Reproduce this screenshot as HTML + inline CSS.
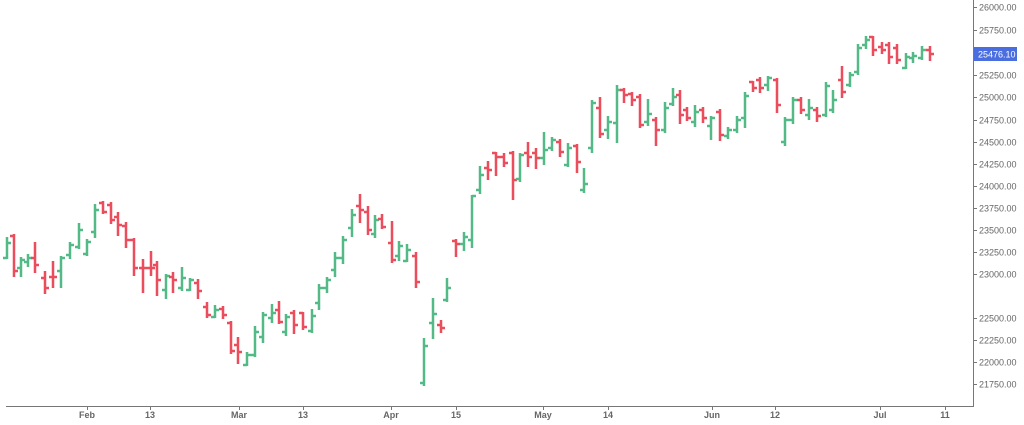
<!DOCTYPE html>
<html><head><meta charset="utf-8"><style>
html,body{margin:0;padding:0;background:#fff;width:1024px;height:425px;overflow:hidden}
svg text{font-family:"Liberation Sans",sans-serif;font-size:9px;fill:#666}
</style></head><body>
<svg id="s" width="1024" height="425" viewBox="0 0 1024 425" xmlns="http://www.w3.org/2000/svg">
<g stroke="#777" stroke-width="1" shape-rendering="crispEdges">
<line x1="973.5" y1="0" x2="973.5" y2="406"/>
<line x1="6" y1="406.5" x2="974" y2="406.5"/>
</g>
<g stroke="#777" shape-rendering="crispEdges">
<line x1="973" x2="977" y1="7.5" y2="7.5"/><line x1="973" x2="977" y1="30.5" y2="30.5"/>
<line x1="973" x2="977" y1="75.5" y2="75.5"/><line x1="973" x2="977" y1="97.5" y2="97.5"/>
<line x1="973" x2="977" y1="120.5" y2="120.5"/><line x1="973" x2="977" y1="142.5" y2="142.5"/>
<line x1="973" x2="977" y1="164.5" y2="164.5"/><line x1="973" x2="977" y1="186.5" y2="186.5"/>
<line x1="973" x2="977" y1="208.5" y2="208.5"/><line x1="973" x2="977" y1="230.5" y2="230.5"/>
<line x1="973" x2="977" y1="252.5" y2="252.5"/><line x1="973" x2="977" y1="274.5" y2="274.5"/>
<line x1="973" x2="977" y1="318.5" y2="318.5"/><line x1="973" x2="977" y1="340.5" y2="340.5"/>
<line x1="973" x2="977" y1="362.5" y2="362.5"/><line x1="973" x2="977" y1="384.5" y2="384.5"/>
<line y1="406" y2="410" x1="87.5" x2="87.5"/><line y1="406" y2="410" x1="150.5" x2="150.5"/>
<line y1="406" y2="410" x1="239.5" x2="239.5"/><line y1="406" y2="410" x1="303.5" x2="303.5"/>
<line y1="406" y2="410" x1="391.5" x2="391.5"/><line y1="406" y2="410" x1="456.5" x2="456.5"/>
<line y1="406" y2="410" x1="543.5" x2="543.5"/><line y1="406" y2="410" x1="608.5" x2="608.5"/>
<line y1="406" y2="410" x1="712.5" x2="712.5"/><line y1="406" y2="410" x1="775.5" x2="775.5"/>
<line y1="406" y2="410" x1="880.5" x2="880.5"/><line y1="406" y2="410" x1="945.5" x2="945.5"/>
</g>
<g text-anchor="start">
<text x="979" y="10.5">26000.00</text><text x="979" y="33.5">25750.00</text>
<text x="979" y="78.5">25250.00</text><text x="979" y="100.5">25000.00</text>
<text x="979" y="123.5">24750.00</text><text x="979" y="145.5">24500.00</text>
<text x="979" y="167.5">24250.00</text><text x="979" y="189.5">24000.00</text>
<text x="979" y="211.5">23750.00</text><text x="979" y="233.5">23500.00</text>
<text x="979" y="255.5">23250.00</text><text x="979" y="277.5">23000.00</text>
<text x="979" y="321.5">22500.00</text><text x="979" y="343.5">22250.00</text>
<text x="979" y="365.5">22000.00</text><text x="979" y="387.5">21750.00</text>
</g>
<rect x="974" y="47" width="43" height="14" fill="#4a6ee0"/>
<text x="978" y="57.5" style="fill:#fff">25476.10</text>
<g text-anchor="middle" style="font-weight:bold">
<text x="87" y="418">Feb</text><text x="150" y="418">13</text><text x="239" y="418">Mar</text>
<text x="303" y="418">13</text><text x="391" y="418">Apr</text><text x="456" y="418">15</text>
<text x="543" y="418">May</text><text x="608" y="418">14</text><text x="712" y="418">Jun</text>
<text x="775" y="418">12</text><text x="880" y="418">Jul</text><text x="945" y="418">11</text>
</g>
<g id="bars"></g>
</svg>
<script>
var d=[
[7,258,238,258,243],[14,236,235,276,271],[21,268,258,276,260],[28,262,255,266,258],[35,258,243,272,265],
[45,278,272,293,288],[53,277,262,287,277],[61,271,257,287,258],[70,255,243,258,245],[79,247,224,248,230],
[87,254,240,255,242],[95,232,205,237,210],[103,203,202,213,212],[111,205,203,223,220],[118,217,213,235,225],
[126,226,223,247,240],[134,240,239,275,268],[143,268,260,292,268],[151,268,252,275,268],[157,265,262,295,280],
[166,290,275,298,276],[173,277,273,292,280],[182,288,268,290,278],[190,290,279,290,280],[198,283,280,298,291],
[207,307,303,317,315],[215,317,306,317,310],[223,309,307,318,315],[231,323,322,353,351],[238,345,338,363,352],
[247,365,353,365,355],[255,355,327,356,332],[263,337,313,342,315],[272,318,305,322,313],[279,310,302,323,322],
[286,332,315,335,317],[294,313,311,333,325],[303,313,313,329,327],[312,331,310,332,316],[319,303,285,309,288],
[327,288,278,292,280],[335,270,253,276,258],[343,258,237,263,240],[352,228,210,236,215],[360,206,195,222,210],
[368,212,207,234,230],[375,234,216,237,220],[382,219,215,228,227],[392,243,222,262,260],[399,256,242,260,246],
[407,261,245,261,250],[416,256,253,287,282],[424,383,339,385,346],[433,323,299,338,314],[441,325,321,332,328],
[447,300,279,301,288],[456,241,240,256,244],[464,244,233,250,237],[472,240,196,247,196],[480,190,167,193,175],
[488,168,162,179,170],[496,153,153,175,157],[504,157,154,166,163],[513,153,152,199,180],[520,179,154,181,155],
[528,153,143,166,157],[536,153,149,168,158],[544,158,133,164,150],[552,148,138,150,140],[560,142,140,156,152],
[568,165,144,166,148],[577,146,145,172,162],[584,190,169,192,184],[592,148,101,152,103],[600,108,98,137,134],
[608,130,117,138,122],[617,123,86,142,90],[624,90,89,102,95],[632,94,93,105,100],[640,97,95,127,125],
[648,122,100,125,114],[656,120,118,145,130],[665,130,103,132,108],[673,104,89,105,97],[680,95,91,123,115],
[687,110,108,120,118],[695,122,106,126,112],[703,110,108,122,118],[711,126,117,139,118],[720,112,110,140,135],
[728,136,128,138,130],[737,130,117,132,120],[745,118,93,127,96],[753,82,82,91,88],[760,80,78,92,88],
[768,85,77,90,78],[777,80,79,112,105],[785,142,118,145,120],[793,120,98,123,100],[801,100,98,113,110],
[809,115,100,119,108],[817,110,108,121,116],[826,115,83,116,86],[833,110,91,112,100],[842,80,67,97,92],
[850,85,73,86,75],[858,72,45,74,48],[866,45,37,48,40],[873,37,37,55,50],[882,47,43,53,50],
[889,45,43,63,57],[897,48,45,63,60],[906,68,54,68,57],[913,58,53,62,56],[922,58,47,59,50],[930,50,47,60,54]
];
var g=document.getElementById('bars'),h='';
d.forEach(function(b){var x=b[0],o=b[1],hi=b[2],lo=b[3],c=b[4];
var col=c<o?'#53b987':'#eb4d5c';
h+='<path d="M'+x+' '+(hi-1)+'V'+(lo+1)+'M'+(x-4)+' '+o+'H'+x+'M'+x+' '+c+'H'+(x+4)+'" stroke="'+col+'" stroke-width="2.5" fill="none"/>';});
g.innerHTML=h;
</script>
</body></html>
